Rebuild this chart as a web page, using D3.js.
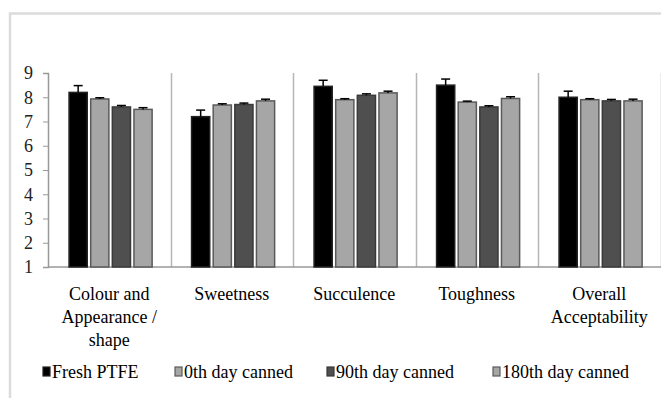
<!DOCTYPE html>
<html>
<head>
<meta charset="utf-8">
<script src="https://cdn.jsdelivr.net/npm/d3@7"></script>
<style>
  body { margin: 0; background: #fff; }
</style>
</head>
<body>
<div class="canvas"></div>
<script>
const categories = ['Colour and|Appearance /|shape', 'Sweetness', 'Succulence', 'Toughness', 'Overall|Acceptability'];
const seriesNames = ['Fresh PTFE', '0th day canned', '90th day canned', '180th day canned'];
const freshPTFE = [8.2, 7.2, 8.45, 8.5, 8.0];
const day0 = [7.93, 7.68, 7.9, 7.8, 7.9];
const day90 = [7.6, 7.7, 8.08, 7.6, 7.85];
const day180 = [7.5, 7.85, 8.18, 7.95, 7.85];
const errFresh = [0.28, 0.27, 0.25, 0.25, 0.25];
const errDay0 = [0.05, 0.05, 0.04, 0.04, 0.04];
const errDay90 = [0.06, 0.06, 0.06, 0.05, 0.06];
const errDay180 = [0.07, 0.07, 0.07, 0.07, 0.07];
const yTicks = [1, 2, 3, 4, 5, 6, 7, 8, 9];

const fills = ['#000000', '#a6a6a6', '#4f4f4f', '#a6a6a6'];
const strokes = ['#222', '#5a5a5a', '#3a3a3a', '#5a5a5a'];
const font = 'Liberation Serif';

const dims = { width: 661, height: 398 };
const margin = { top: 73, left: 48, right: 0.5, bottom: 131 };

const svg = d3.select('.canvas').append('svg')
  .attr('width', dims.width)
  .attr('height', dims.height)
  .attr('font-family', font);

// outer frame of the pasted chart
svg.append('path')
  .attr('d', `M10,${dims.height} V13.5 H${dims.width}`)
  .attr('fill', 'none')
  .attr('stroke', '#dcdcdc')
  .attr('stroke-width', 2.5);

const values = [freshPTFE, day0, day90, day180];
const errs = [errFresh, errDay0, errDay90, errDay180];
const data = categories.map((c, i) => ({
  cat: c,
  bars: seriesNames.map((s, j) => ({ s, v: values[j][i], e: errs[j][i], j }))
}));

const x0 = d3.scaleBand()
  .domain(categories)
  .range([margin.left, dims.width - margin.right])
  .padding(0);

const bw = x0.bandwidth();
const x1 = d3.scaleBand()
  .domain(seriesNames)
  .range([bw * 0.172, bw * 0.85])
  .paddingInner(0.16);

const y = d3.scaleLinear()
  .domain([1, 9])
  .range([dims.height - margin.bottom, margin.top]);

// category separators
svg.selectAll('line.sep')
  .data(categories)
  .enter().append('line')
  .attr('x1', d => Math.round(x0(d) + bw) + 0.5)
  .attr('x2', d => Math.round(x0(d) + bw) + 0.5)
  .attr('y1', y(9))
  .attr('y2', y(1))
  .attr('stroke', '#b5b5b5')
  .attr('stroke-width', 1.5);

// y axis
const yAxis = svg.append('g')
  .attr('transform', `translate(${margin.left},0)`)
  .call(d3.axisLeft(y).tickValues(yTicks).tickSize(5).tickPadding(10).tickFormat(d3.format('d')));
yAxis.attr('font-family', font);
yAxis.select('.domain').attr('stroke', '#999').attr('stroke-width', 1.5);
yAxis.selectAll('.tick line').attr('stroke', '#999');
yAxis.selectAll('.tick text')
  .attr('fill', '#222')
  .attr('font-family', font)
  .attr('font-size', 18);

// baseline
svg.append('line')
  .attr('x1', margin.left).attr('x2', dims.width)
  .attr('y1', y(1)).attr('y2', y(1))
  .attr('stroke', '#999').attr('stroke-width', 1.5);

const groups = svg.selectAll('g.cat')
  .data(data)
  .enter().append('g')
  .attr('class', 'cat')
  .attr('transform', d => `translate(${x0(d.cat)},0)`);

groups.selectAll('rect')
  .data(d => d.bars)
  .enter().append('rect')
  .attr('x', d => x1(d.s))
  .attr('width', x1.bandwidth())
  .attr('y', d => y(d.v))
  .attr('height', d => y(1) - y(d.v))
  .attr('fill', d => fills[d.j])
  .attr('stroke', d => strokes[d.j])
  .attr('stroke-width', 1.5);

// error bars (upper only)
const eb = groups.selectAll('g.err')
  .data(d => d.bars)
  .enter().append('g')
  .attr('class', 'err');
eb.append('line')
  .attr('x1', d => x1(d.s) + x1.bandwidth() / 2)
  .attr('x2', d => x1(d.s) + x1.bandwidth() / 2)
  .attr('y1', d => y(d.v))
  .attr('y2', d => y(d.v + d.e))
  .attr('stroke', '#000').attr('stroke-width', 1.5);
eb.append('line')
  .attr('x1', d => x1(d.s) + x1.bandwidth() / 2 - 4.5)
  .attr('x2', d => x1(d.s) + x1.bandwidth() / 2 + 4.5)
  .attr('y1', d => y(d.v + d.e))
  .attr('y2', d => y(d.v + d.e))
  .attr('stroke', '#000').attr('stroke-width', 1.5);

// category labels
const labels = svg.selectAll('text.cat')
  .data(categories)
  .enter().append('text')
  .attr('class', 'cat')
  .attr('text-anchor', 'middle')
  .attr('fill', '#000')
  .attr('font-family', font)
  .attr('font-size', 18)
  .attr('transform', d => `translate(${x0(d) + bw / 2},${y(1) + 33})`);
labels.selectAll('tspan')
  .data(d => d.split('|'))
  .enter().append('tspan')
  .attr('x', 0)
  .attr('dy', (d, i) => i === 0 ? 0 : 23)
  .text(d => d);

// legend
const legendX = [43, 175, 327, 493];
const legend = svg.selectAll('g.leg')
  .data(seriesNames)
  .enter().append('g')
  .attr('class', 'leg')
  .attr('transform', (d, i) => `translate(${legendX[i]},378)`);
legend.append('rect')
  .attr('x', 0).attr('y', -11)
  .attr('width', 7).attr('height', 9)
  .attr('fill', (d, i) => fills[i])
  .attr('stroke', (d, i) => strokes[i])
  .attr('stroke-width', 1.2);
legend.append('text')
  .attr('x', 9).attr('y', 0)
  .attr('fill', '#000')
  .attr('font-family', font)
  .attr('font-size', 18)
  .text(d => d);
</script>
</body>
</html>
